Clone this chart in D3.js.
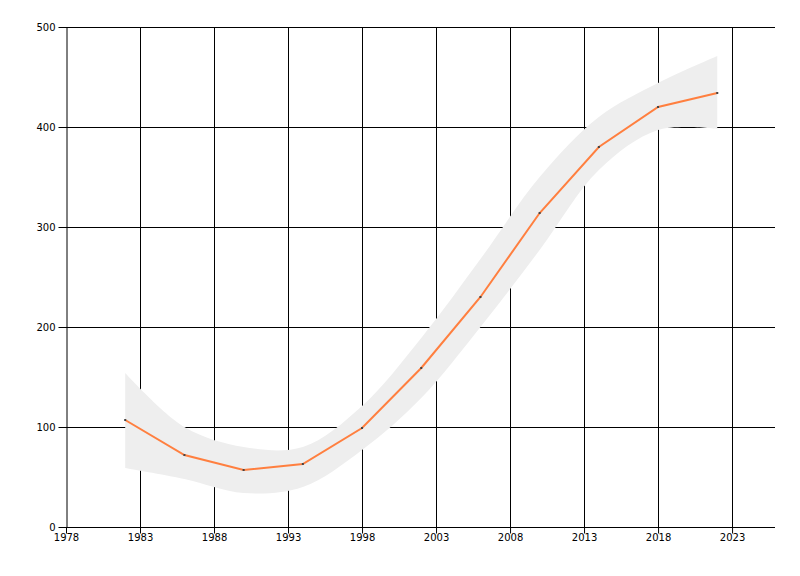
<!DOCTYPE html>
<html><head><meta charset="utf-8">
<script src="https://cdn.jsdelivr.net/npm/d3@7"></script>
<style>body{margin:0;background:#fff}svg{display:block}</style>
</head><body>
<script>
const years = [1982,1986,1990,1994,1998,2002,2006,2010,2014,2018,2022];
const values = [107,72,57,63,99,159,230,314,380,420,434];
const bandUpper = [154,100,80,80,121,189,268,350,410,444,471];
const bandLower = [59,48,34,40,77,129,200,277,357,397,398];
const xTicks = [1978,1983,1988,1993,1998,2003,2008,2013,2018,2023];
const yTicks = [0,100,200,300,400,500];

const W=800,H=576;
const svg=d3.select("body").append("svg").attr("width",W).attr("height",H);
const x=d3.scaleLinear().domain([1978,2025.9]).range([66,775]);
const y=d3.scaleLinear().domain([0,500]).range([527,27]);

const g=svg.append("g");
// grid
g.selectAll(".vg").data(xTicks.slice(1)).join("line")
 .attr("x1",d=>Math.round(x(d))+0.5).attr("x2",d=>Math.round(x(d))+0.5)
 .attr("y1",27).attr("y2",527).attr("stroke","#000");
g.selectAll(".hg").data(yTicks.slice(1)).join("line")
 .attr("y1",d=>Math.round(y(d))+0.5).attr("y2",d=>Math.round(y(d))+0.5)
 .attr("x1",66).attr("x2",775).attr("stroke","#000");

const band = years.map((d,i)=>({x:d,u:bandUpper[i],l:bandLower[i]}));
svg.append("path").datum(band)
 .attr("fill","#eeeeee")
 .attr("d",d3.area().x(d=>x(d.x)).y0(d=>y(d.l)).y1(d=>y(d.u)).curve(d3.curveCatmullRom.alpha(0.5)));

const xa=svg.append("g").attr("transform","translate(0,527.5)")
 .call(d3.axisBottom(x).tickValues(xTicks).tickFormat(d3.format("d")).tickSize(6).tickSizeOuter(0).offset(0.5));
const ya=svg.append("g").attr("transform","translate(66.5,0)")
 .call(d3.axisLeft(y).tickValues(yTicks).tickSize(8).tickSizeOuter(0).offset(0.5));
[xa,ya].forEach(a=>{
 a.select(".domain").attr("stroke","#000");
 a.selectAll(".tick line").attr("stroke","#000");
 a.selectAll("text").attr("fill","#000").style("font-family","'DejaVu Sans', sans-serif").style("font-size","10px");
});
xa.select(".domain").attr("d","M66,0H775");
xa.selectAll("text").attr("dy","0.9em").attr("y",4);
ya.selectAll("text").attr("x",-11);

const pts = years.map((d,i)=>({x:d,v:values[i]}));
svg.append("path").datum(pts).attr("fill","none").attr("stroke","#ff7f3f").attr("stroke-width",2)
 .attr("d",d3.line().x(d=>x(d.x)).y(d=>y(d.v)));
svg.selectAll(".pt").data(pts).join("rect")
 .attr("x",d=>x(d.x)-1).attr("y",d=>y(d.v)-1).attr("width",2).attr("height",2).attr("fill","#444");
</script>
</body></html>
